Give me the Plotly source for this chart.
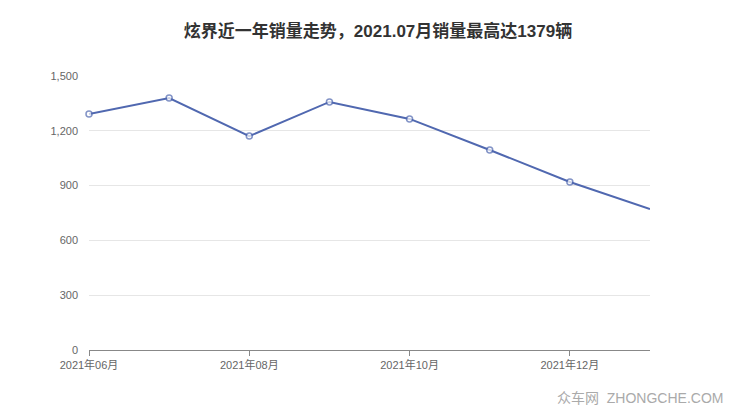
import plotly.graph_objects as go

months = ["2021年06月", "2021年07月", "2021年08月", "2021年09月", "2021年10月", "2021年11月", "2021年12月", "2022年01月"]
sales = [1292, 1379, 1171, 1358, 1265, 1095, 920, 772]
tick_labels = ["2021年06月", "2021年08月", "2021年10月", "2021年12月"]
y_ticks = [0, 300, 600, 900, 1200, 1500]

fig = go.Figure()
fig.add_trace(go.Scatter(
    x=months, y=sales, mode="lines+markers",
    line=dict(color="#5068b0", width=2),
    marker=dict(size=[6] * (len(months) - 1) + [0], color="white",
                line=dict(color="#5068b0", width=1.5)),
    cliponaxis=False,
))

fig.update_layout(
    width=740, height=417,
    margin=dict(l=81, r=98, t=68, b=75),
    paper_bgcolor="white", plot_bgcolor="white",
    showlegend=False,
    font=dict(family="Liberation Sans, Noto Sans CJK SC", color="#666", size=11),
    title=dict(text="<b>炫界近一年销量走势，2021.07月销量最高达1379辆</b>",
               x=0.5, xanchor="center", y=0.945, yanchor="middle",
               font=dict(size=17, color="#333", family="Liberation Sans, Noto Sans CJK SC")),
    xaxis=dict(type="category", range=[0, len(months) - 1],
               tickmode="array", tickvals=tick_labels, ticktext=tick_labels,
               showgrid=False, showline=True, linecolor="#888", linewidth=1,
               ticks="outside", ticklen=5, tickcolor="#888",
               tickfont=dict(size=11, color="#666"), zeroline=False),
    yaxis=dict(range=[0, 1500], tickvals=y_ticks, tickformat=",",
               showgrid=True, gridcolor="#e6e6e6", gridwidth=1,
               showline=False, zeroline=False, ticks="", ticklabelstandoff=10,
               tickfont=dict(size=11, color="#666")),
    annotations=[dict(text="众车网  ZHONGCHE.COM", xref="paper", yref="paper",
                      x=1.0 + 75/561, y=-0.175, xanchor="right", yanchor="middle",
                      showarrow=False, font=dict(size=14, color="#aaa"))],
)

fig.write_html("out.html")
